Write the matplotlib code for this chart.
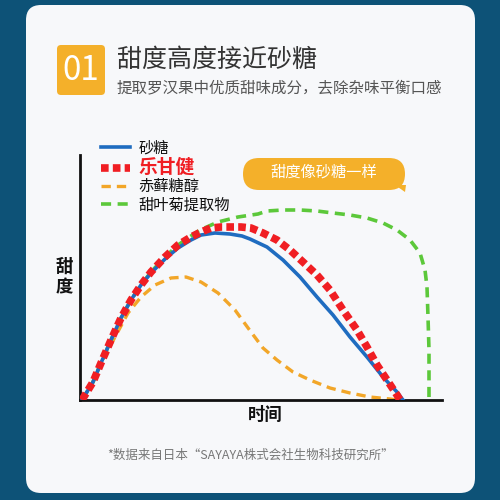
import numpy as np
import matplotlib
matplotlib.use("Agg")
import matplotlib.pyplot as plt
from matplotlib.patches import FancyBboxPatch, Polygon
from matplotlib.lines import Line2D

plt.rcParams['font.family'] = ['Noto Sans CJK SC', 'DejaVu Sans']

# curves (time, sweetness) in plot units
sugar_x = [2, 13, 21, 31, 41, 51, 61, 71, 85, 98, 111, 121, 135, 150, 162, 170, 187, 203, 220, 237, 253, 270, 287, 303, 317, 323]
sugar_y = [0, 18, 37, 60, 82, 100, 115, 127, 141, 152, 160, 165, 167, 166, 164, 161, 153, 140, 123, 103, 85, 63, 43, 23, 8, 0]

legan_x = [2, 13, 21, 31, 41, 51, 61, 71, 85, 98, 111, 121, 131, 141, 151, 161, 171, 183, 197, 210,
           223, 237, 250, 263, 277, 287, 297, 307, 317, 320]
legan_y = [0, 18, 37, 60, 82, 100, 115, 128, 143, 155, 163, 168, 172, 173, 173, 173, 172, 167, 160, 150,
           138, 125, 110, 90, 70, 53, 35, 20, 5, 0]

erythritol_x = [2, 13, 21, 35, 48, 61, 75, 91, 106, 121, 138, 155, 171, 183, 197, 213, 230, 250, 270, 290, 310, 317]
erythritol_y = [0, 18, 37, 63, 87, 103, 115, 122, 123, 118, 107, 90, 68, 52, 40, 28, 20, 12, 7, 3, 1, 0]

stevia_x = [2, 13, 21, 31, 41, 51, 61, 71, 85, 98, 111, 120, 138, 158, 178, 187, 203, 220, 237, 253,
            270, 287, 303, 317, 330, 340, 345, 347, 348, 349, 349]
stevia_y = [0, 18, 37, 60, 82, 100, 115, 128, 143, 155, 164, 170, 178, 183, 186, 189, 190, 190, 189, 187,
            185, 182, 177, 170, 160, 147, 130, 113, 83, 50, 0]

labels = ['砂糖', '乐甘健', '赤藓糖醇', '甜叶菊提取物']
colors = ['#1f6cc0', '#f01e23', '#f2a628', '#5cc83a']

title = '甜度高度接近砂糖'
subtitle = '提取罗汉果中优质甜味成分，去除杂味平衡口感'
badge = '01'
callout = '甜度像砂糖一样'
xlabel = '时间'
ylabel = '甜\n度'
footnote = '*数据来自日本“SAYAYA株式会社生物科技研究所”'

W = 500.0
def fx(px):
    return px / W
def fy(py):
    return 1 - py / W

fig = plt.figure(figsize=(5, 5), dpi=100)
fig.patch.set_facecolor('#0d5277')

card = FancyBboxPatch((fx(26), fy(493)), fx(475) - fx(26), fy(5) - fy(493),
                      boxstyle='round,pad=0,rounding_size=0.03', transform=fig.transFigure,
                      facecolor='#f7f8fa', edgecolor='none', zorder=0)
fig.add_artist(card)

# badge + titles
b = FancyBboxPatch((fx(57), fy(95)), fx(105) - fx(57), fy(45) - fy(95),
                   boxstyle='round,pad=0,rounding_size=0.008', transform=fig.transFigure,
                   facecolor='#f4b02a', edgecolor='none', zorder=1)
fig.add_artist(b)
fig.text(fx(81), fy(71), badge, color='white', fontsize=24, ha='center', va='center',
         fontweight='light')
fig.text(fx(117), fy(60), title, color='#333333', fontsize=18, ha='left', va='center')
fig.text(fx(117), fy(88), subtitle, color='#555555', fontsize=11.2, ha='left', va='center')

# chart
ax = fig.add_axes([fx(80), fy(400), (442 - 80) / W, (400 - 155) / W])
ax.set_facecolor('none')
ax.set_xlim(0, 362)
ax.set_ylim(0, 245)
ax.plot(erythritol_x, erythritol_y, color=colors[2], lw=2.4, dashes=(2.8, 1.8), zorder=2)
ax.plot(stevia_x, stevia_y, color=colors[3], lw=2.6, dashes=(2.8, 1.8), zorder=2)
ax.plot(sugar_x, sugar_y, color=colors[0], lw=2.6, zorder=3)
ax.plot(legan_x, legan_y, color=colors[1], lw=5.5, dashes=(1, 0.55), zorder=4)
for s in ['top', 'right']:
    ax.spines[s].set_visible(False)
for s in ['left', 'bottom']:
    ax.spines[s].set_linewidth(2)
    ax.spines[s].set_color('#111111')
ax.set_xticks([])
ax.set_yticks([])

fig.text(fx(265), fy(415), xlabel, fontsize=12.5, fontweight='bold', ha='center', va='center', color='#111111')
fig.text(fx(64), fy(277), ylabel, fontsize=12.5, fontweight='bold', ha='center', va='center',
         color='#111111', linespacing=1.2)

# legend
handles = [Line2D([], [], color=colors[0], lw=2.6),
           Line2D([], [], color=colors[1], lw=5.5, dashes=(1, 0.55)),
           Line2D([], [], color=colors[2], lw=2.4, dashes=(2.8, 1.8)),
           Line2D([], [], color=colors[3], lw=2.6, dashes=(2.8, 1.8))]
leg = fig.legend(handles, labels, loc='upper left', bbox_to_anchor=(fx(93), fy(132)),
                 frameon=False, fontsize=11, handlelength=1.9, handletextpad=0.6,
                 labelspacing=0.08, borderpad=0)
for t in leg.get_texts():
    t.set_color('#111111')
leg.get_texts()[1].set_color(colors[1])
leg.get_texts()[1].set_fontweight('bold')
leg.get_texts()[1].set_fontsize(13.5)

# callout bubble
cb = FancyBboxPatch((fx(243), fy(190)), fx(405) - fx(243), fy(158) - fy(190),
                    boxstyle='round,pad=0,rounding_size=0.032', transform=fig.transFigure,
                    facecolor='#f4b02a', edgecolor='none', zorder=1)
fig.add_artist(cb)
tail = Polygon([(fx(395), fy(185)), (fx(406), fy(185)), (fx(405), fy(192))], closed=True,
               transform=fig.transFigure, facecolor='#f4b02a', edgecolor='none', zorder=1)
fig.add_artist(tail)
fig.text(fx(324), fy(172), callout, color='white', fontsize=11, ha='center', va='center')

fig.text(fx(250), fy(455), footnote, color='#777777', fontsize=9, ha='center', va='center')

fig.savefig('out.png', dpi=100, facecolor=fig.get_facecolor())
